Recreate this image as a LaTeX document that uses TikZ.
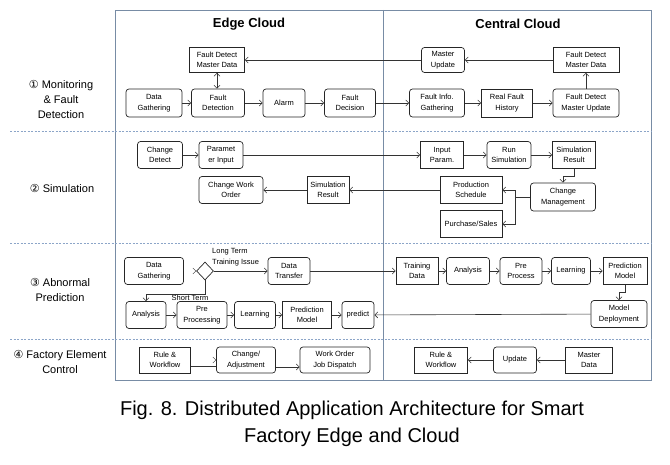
\documentclass[tikz,border=0pt]{standalone}
\usepackage{fontspec}
\setmainfont{Liberation Sans}
\newfontfamily\circfont{DejaVu Sans}
\usetikzlibrary{arrows.meta,shapes.geometric,positioning}
\definecolor{frameblue}{RGB}{120,140,165}
\definecolor{sepblue}{RGB}{140,165,200}

\begin{document}
\begin{tikzpicture}[x=1pt,y=-1pt,>={Straight Barb[length=3pt,width=6pt]},
	box/.style={draw=black!85,rectangle,minimum height=27,inner sep=1pt,align=center,line width=0.7pt,font=\fontsize{7.5}{10.5}\selectfont},
	rbox/.style={box,rounded corners=3pt},
	link/.style={->,draw=black!80,line width=0.6pt},
	frame/.style={draw=frameblue,line width=0.8pt},
	sep/.style={draw=sepblue,line width=0.6pt,dash pattern=on 2pt off 1.5pt},
	rowlabel/.style={align=center,font=\fontsize{11}{15}\selectfont},
	title/.style={font=\fontsize{13}{15}\selectfont\bfseries}]

	\useasboundingbox (0,0) rectangle (670,465);

	\draw[frame] (115,10) rectangle (651,380);
	\draw[frame] (383,10) -- (383,380);
	\draw[sep] (10,131) -- (651,131);
	\draw[sep] (10,243) -- (651,243);
	\draw[sep] (10,339) -- (651,339);

	\node[title] (edge) at (249,24) {Edge Cloud};
	\node[title] (central) at (518,24) {Central Cloud};

	\node[rowlabel] (l1) at (61,99) {{\circfont ①} Monitoring\\\& Fault\\Detection};
	\node[rowlabel] (l2) at (62,188) {{\circfont ②} Simulation};
	\node[rowlabel] (l3) at (60,290) {{\circfont ③} Abnormal\\Prediction};
	\node[rowlabel] (l4) at (60,362) {{\circfont ④} Factory Element\\Control};

	% monitoring
	\node[box,minimum width=55,minimum height=25] (fdm1) at (217,60) {Fault Detect\\Master Data};
	\node[rbox,minimum width=56,minimum height=28] (dg1) at (154,103) {Data\\Gathering};
	\node[rbox,minimum width=53,minimum height=28] (fdet) at (218,103) {Fault\\Detection};
	\node[rbox,minimum width=42,minimum height=28] (alarm) at (284,103) {Alarm};
	\node[rbox,minimum width=51,minimum height=28] (fdec) at (350,103) {Fault\\Decision};
	\node[rbox,minimum width=43,minimum height=25] (mupd) at (443,60) {Master\\Update};
	\node[box,minimum width=66,minimum height=25] (fdm2) at (586,60) {Fault Detect\\Master Data};
	\node[rbox,minimum width=55,minimum height=28] (fig) at (437,103) {Fault Info.\\Gathering};
	\node[box,minimum width=51,minimum height=28] (rfh) at (507,103) {Real Fault\\History};
	\node[rbox,minimum width=66,minimum height=28] (fdmu) at (586,103) {Fault Detect\\Master Update};

	% simulation
	\node[rbox,minimum width=45] (chdet) at (160,155) {Change\\Detect};
	\node[rbox,minimum width=44] (parin) at (221,155) {Paramet\\er Input};
	\node[rbox,minimum width=64] (cwo) at (231,190) {Change Work\\Order};
	\node[box,minimum width=42] (sres1) at (328,190) {Simulation\\Result};
	\node[box,minimum width=43] (inpar) at (442,155) {Input\\Param.};
	\node[rbox,minimum width=44] (runsim) at (509,155) {Run\\Simulation};
	\node[box,minimum width=43] (sres2) at (574,155) {Simulation\\Result};
	\node[box,minimum width=62] (prods) at (471,190) {Production\\Schedule};
	\node[rbox,minimum width=65,minimum height=28] (chmg) at (563,197) {Change\\Management};
	\node[box,minimum width=62] (purch) at (471,224) {Purchase/Sales};

	% abnormal prediction
	\node[rbox,minimum width=59] (dg2) at (154,271) {Data\\Gathering};
	\node[diamond,draw=black!85,line width=0.7pt,minimum width=17,minimum height=18,inner sep=0pt] (dec) at (205,271) {};
	\node[anchor=west,align=left,inner sep=0pt,font=\fontsize{7.5}{10.5}\selectfont] (lterm) at (212,257) {Long Term\\Training Issue};
	\node[rbox,minimum width=42] (dtr) at (289,271) {Data\\Transfer};
	\node[inner sep=0pt,font=\fontsize{7.5}{10.5}\selectfont] (sterm) at (190,298) {Short Term};
	\node[rbox,minimum width=40] (ana1) at (146,315) {Analysis};
	\node[rbox,minimum width=50] (pre1) at (202,315) {Pre\\Processing};
	\node[rbox,minimum width=41] (lrn1) at (255,315) {Learning};
	\node[box,minimum width=49] (pm1) at (307,315) {Prediction\\Model};
	\node[rbox,minimum width=32] (pred) at (358,315) {predict};
	\node[box,minimum width=42] (tdat) at (417,271) {Training\\Data};
	\node[rbox,minimum width=43] (ana2) at (468,271) {Analysis};
	\node[rbox,minimum width=42] (pre2) at (521,271) {Pre\\Process};
	\node[rbox,minimum width=39] (lrn2) at (571,271) {Learning};
	\node[box,minimum width=44] (pm2) at (625,271) {Prediction\\Model};
	\node[rbox,minimum width=56] (mdep) at (619,314) {Model\\Deployment};

	% factory element control
	\node[box,minimum width=51,minimum height=26] (rw1) at (165,360) {Rule \&\\Workflow};
	\node[rbox,minimum width=59,minimum height=26] (chadj) at (246,360) {Change/\\Adjustment};
	\node[rbox,minimum width=70,minimum height=26] (wojd) at (335,360) {Work Order\\Job Dispatch};
	\node[box,minimum width=53,minimum height=26] (rw2) at (441,360) {Rule \&\\Workflow};
	\node[rbox,minimum width=43,minimum height=26] (upd) at (515,360) {Update};
	\node[box,minimum width=47,minimum height=26] (mdat) at (589,360) {Master\\Data};

	\node[font=\fontsize{20}{27}\selectfont,align=center] (cap) at (352,424) {Fig. 8. Distributed Application Architecture for Smart\\Factory Edge and Cloud};

	\path[link]
		(dg1) edge (fdet)
		(fdet) edge (alarm)
		(alarm) edge (fdec)
		(fdec) edge (fig)
		(fig) edge (rfh)
		(rfh) edge (fdmu)
		(fdmu) edge (fdm2)
		(fdm2) edge (mupd)
		(mupd) edge (fdm1)
		(fdm1.south) edge (fdm1.south |- fdet.north)

		(chdet) edge (parin)
		(parin) edge (inpar)
		(inpar) edge (runsim)
		(runsim) edge (sres2)
		(prods) edge (sres1)
		(sres1) edge (cwo)

		(dec) edge (dtr)
		(dtr) edge (tdat)
		(tdat) edge (ana2)
		(ana2) edge (pre2)
		(pre2) edge (lrn2)
		(lrn2) edge (pm2)
		(mdep) edge (pred)
		(ana1) edge (pre1)
		(pre1) edge (lrn1)
		(lrn1) edge (pm1)
		(pm1) edge (pred)

		(mdat) edge (upd)
		(upd) edge (rw2);

	\draw[link] (sres2.south) -- ++(0,7) -| (chmg.north);
	\draw[link] (chmg.west) -- ++(-15,0) |- (prods.east);
	\draw[link] (chmg.west) -- ++(-15,0) |- (purch.east);
	\draw[link] (pm2.south) -- ++(0,7) -| (mdep.north);
	\draw[link] (dec.south) -- ++(0,14) -| (ana1.north);
	\draw[link,double,double distance=1.2pt,line width=0.4pt] (dg2) -- (dec);
	\draw[link,double,double distance=1.2pt,line width=0.4pt] (rw1) -- (chadj);
	\draw[draw=black!80,line width=0.6pt] ([yshift=-6pt]rw1.east) -- ([yshift=-6pt]chadj.west);
	\draw[link] ([yshift=-7pt]chadj.east) -- ([yshift=-7pt]wojd.west);

\end{tikzpicture}
\end{document}
